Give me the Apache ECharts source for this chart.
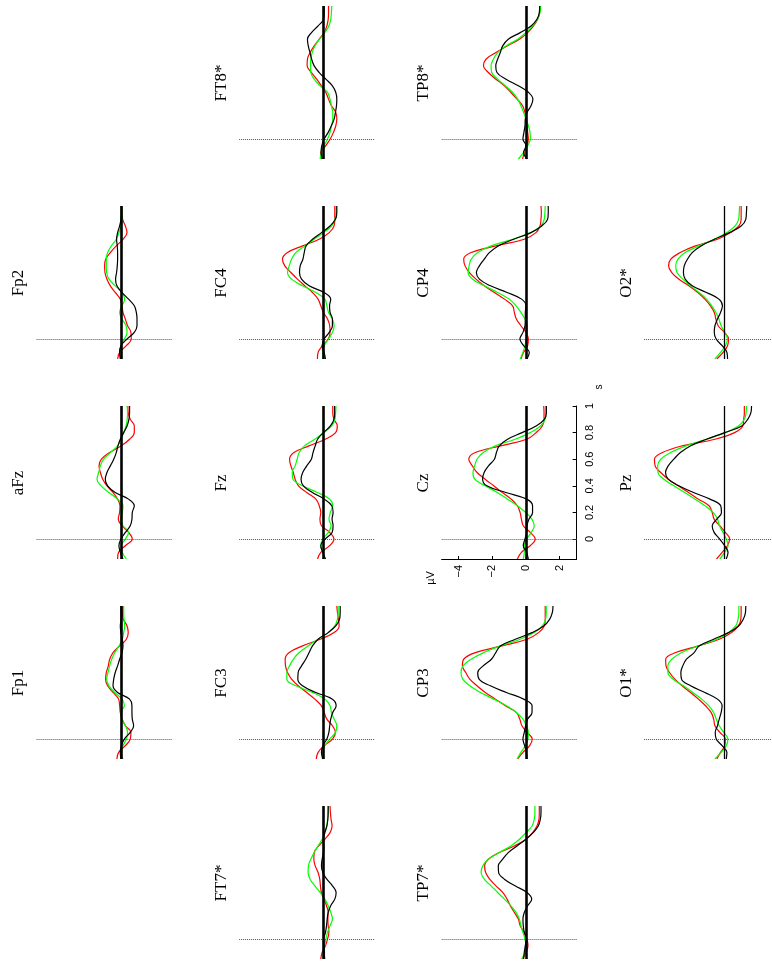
<!DOCTYPE html>
<html>
<head>
<meta charset="utf-8">
<script src="https://cdn.jsdelivr.net/npm/echarts@6/dist/echarts.min.js"></script>
<style>
html, body { margin: 0; padding: 0; background: #fff; }
#main { width: 772px; height: 962px; }
</style>
</head>
<body>
<div id="main"></div>
<script>
var times = [1.0, 0.95, 0.9, 0.85, 0.8, 0.75, 0.7, 0.65, 0.6, 0.55, 0.5, 0.45, 0.4, 0.35, 0.3, 0.25, 0.2, 0.15, 0.1, 0.05, 0, -0.05, -0.1, -0.15];

// amplitudes (µV) per channel and condition
var FT8_red   = [0.3,0.3,0.28,0.2,0.04,-0.26,-0.55,-0.79,-0.95,-0.97,-0.71,-0.4,-0.12,0.14,0.3,0.47,0.73,0.79,0.73,0.59,0.4,0.14,-0.16,-0.12];
var FT8_green = [0.49,0.47,0.43,0.32,0.08,-0.24,-0.51,-0.67,-0.75,-0.77,-0.75,-0.55,-0.2,0.24,0.39,0.47,0.55,0.55,0.47,0.39,0.24,0.04,-0.12,-0.2];
var FT8_black = [0.04,0.04,0,-0.32,-0.71,-0.95,-0.9,-0.8,-0.7,-0.55,-0.25,0.14,0.53,0.73,0.79,0.77,0.71,0.63,0.47,0.28,0.04,-0.1,-0.14,-0.06];

var TP8_red   = [0.83,0.81,0.69,0.45,0.1,-0.39,-1.12,-1.78,-2.37,-2.52,-2.23,-1.78,-1.28,-0.89,-0.53,-0.2,-0.06,0.02,0.06,0.1,0.14,0.06,-0.1,-0.2];
var TP8_green = [0.87,0.83,0.69,0.39,0,-0.49,-1.18,-1.68,-1.93,-2.07,-2.03,-1.68,-1.22,-0.79,-0.49,-0.3,-0.14,0,0.14,0.24,0.26,0.1,-0.14,-0.45];
var TP8_black = [0.81,0.79,0.65,0.3,-0.34,-1.05,-1.38,-1.52,-1.68,-1.79,-1.72,-1.18,-0.45,0.16,0.41,0.3,0.06,-0.04,-0.06,-0.12,-0.18,0,-0.14,0.06];

var Fp2_red   = [0.04,0.06,0.1,0.26,0.36,0.12,-0.28,-0.63,-0.91,-0.97,-0.95,-0.83,-0.63,-0.34,-0.04,0.06,0.12,0.26,0.39,0.59,0.61,0.32,-0.08,-0.2];
var Fp2_green = [0.06,0.06,0.06,0,-0.12,-0.28,-0.57,-0.79,-0.87,-0.87,-0.85,-0.71,-0.34,0.06,0.22,0.06,-0.08,0.06,0.3,0.36,0.2,0,-0.08,0];
var Fp2_black = [0.02,0.02,0,-0.08,-0.2,-0.26,-0.22,-0.2,-0.2,-0.22,-0.26,-0.32,-0.24,0.06,0.45,0.79,0.91,0.95,0.95,0.79,0.36,0,-0.08,-0.04];

var FC4_red   = [0.67,0.67,0.67,0.63,0.34,-0.26,-1.24,-2.13,-2.43,-2.29,-1.93,-1.54,-1.1,-0.65,-0.32,-0.16,0,0.24,0.37,0.39,0.28,-0.06,-0.32,-0.36];
var FC4_green = [0.75,0.75,0.67,0.49,0,-0.55,-1.1,-1.64,-1.89,-2.03,-2.13,-1.89,-1.24,-0.45,0.08,0.2,0.3,0.53,0.63,0.53,0.3,0.04,-0.04,-0.04];
var FC4_black = [0.79,0.79,0.71,0.39,-0.12,-0.65,-1.03,-1.14,-1.22,-1.38,-1.42,-1.3,-0.85,0.04,0.43,0.36,0.39,0.53,0.53,0.34,0.04,-0.08,0.04,0.12];

var CP4_red   = [0.89,0.91,0.89,0.83,0.59,-0.1,-1.78,-3.25,-3.69,-3.61,-3.35,-2.96,-2.47,-1.87,-1.28,-0.79,-0.69,-0.57,-0.3,0,0.14,0.1,-0.14,-0.3];
var CP4_green = [1.14,1.12,1.08,0.89,0.26,-0.79,-2.07,-2.86,-3.25,-3.37,-3.43,-3.16,-2.47,-1.68,-0.99,-0.59,-0.3,-0.06,0.08,0.08,0.02,-0.06,-0.18,-0.34];
var CP4_black = [1.32,1.32,1.28,0.93,0.3,-0.73,-1.64,-2.17,-2.47,-2.76,-2.94,-2.76,-2.11,-1.12,-0.26,0,-0.04,-0.04,-0.06,-0.18,-0.36,-0.14,0.2,0.06];

var O2_red   = [1.07,1.07,1.07,0.93,0.41,-0.41,-1.79,-2.74,-3.33,-3.47,-3.27,-2.82,-2.19,-1.64,-1.2,-0.85,-0.61,-0.51,-0.37,0.02,0.28,0.22,-0.06,-0.45];
var O2_green = [0.97,0.95,0.91,0.69,0.18,-0.61,-1.56,-2.43,-2.88,-3.02,-2.94,-2.58,-2.09,-1.56,-1.1,-0.77,-0.51,-0.32,-0.18,0.04,0.22,0.08,-0.22,-0.57];
var O2_black = [1.42,1.4,1.36,1.07,0.34,-0.61,-1.44,-1.99,-2.29,-2.49,-2.54,-2.43,-1.99,-1.1,-0.32,-0.1,-0.22,-0.41,-0.57,-0.61,-0.49,-0.12,0.18,0.22];

var aFz_red   = [0.41,0.43,0.55,0.79,0.79,0.51,0,-0.67,-1.16,-1.3,-1.22,-1.08,-0.83,-0.47,-0.2,-0.06,-0.08,-0.16,0.06,0.45,0.67,0.26,-0.14,-0.2];
var aFz_green = [0.36,0.39,0.37,0.3,0.16,0,-0.2,-0.63,-1.03,-1.22,-1.32,-1.42,-1.18,-0.71,-0.2,0.12,0.08,-0.04,0.12,0.45,0.26,0.02,0.08,0.32];
var aFz_black = [0.51,0.51,0.47,0.36,0.16,-0.04,-0.18,-0.28,-0.43,-0.63,-0.83,-0.93,-0.79,-0.34,0.45,0.79,0.67,0.65,0.55,0.26,0,-0.12,-0.04,0.12];

var Fz_red   = [0.55,0.55,0.62,0.82,0.72,0.1,-0.86,-1.75,-2.01,-1.93,-1.79,-1.68,-1.48,-0.99,-0.45,-0.25,-0.16,-0.21,-0.12,0.37,0.62,0.37,-0.16,-0.35];
var Fz_green = [0.74,0.72,0.68,0.49,0,-0.51,-1.13,-1.44,-1.56,-1.68,-1.85,-1.81,-1.23,-0.37,0.37,0.55,0.41,0.33,0.45,0.29,-0.04,-0.16,-0.04,0.1];
var Fz_black = [0.66,0.66,0.62,0.41,0,-0.35,-0.49,-0.62,-0.72,-0.99,-1.23,-1.33,-1.19,-0.66,0.04,0.49,0.57,0.51,0.57,0.51,0.1,-0.16,-0.04,0.12];

var Cz_red   = [1.05,1.07,1.07,0.97,0.6,0.04,-1.5,-3.0,-3.39,-3.18,-2.9,-2.42,-1.91,-1.4,-0.88,-0.51,-0.35,-0.27,-0.16,0.25,0.55,0.25,-0.27,-0.51];
var Cz_green = [1.17,1.17,1.13,0.86,0.25,-0.64,-1.81,-2.53,-2.9,-3.04,-3.14,-3.04,-2.42,-1.7,-1.09,-0.51,-0.02,0.35,0.49,0.31,0.04,-0.1,-0.1,-0.16];
var Cz_black = [1.21,1.21,1.09,0.6,-0.23,-1.09,-1.58,-1.75,-1.87,-2.22,-2.48,-2.57,-2.32,-1.19,0.04,0.39,0.39,0.18,0.06,0.04,-0.06,-0.16,0.04,0.14];

var Pz_red   = [1.27,1.27,1.23,1.17,0.66,-0.57,-2.63,-3.86,-4.35,-4.31,-3.96,-3.49,-2.87,-2.22,-1.6,-0.94,-0.74,-0.62,-0.27,0.08,0.35,0.21,-0.12,-0.47];
var Pz_green = [1.4,1.38,1.27,0.9,0.08,-1.13,-2.38,-3.35,-3.96,-4.15,-4.13,-3.76,-3.14,-2.46,-1.81,-1.19,-0.68,-0.41,-0.29,-0.06,0.14,0.25,0.04,-0.27];
var Pz_black = [1.72,1.68,1.48,1.11,0.04,-1.09,-2.11,-2.73,-3.14,-3.49,-3.66,-3.49,-2.83,-1.91,-0.88,-0.21,-0.16,-0.45,-0.74,-0.62,-0.27,0.04,0.25,0.14];

var Fp1_red   = [0.06,0.08,0.14,0.36,0.43,0.32,-0.08,-0.47,-0.67,-0.75,-0.87,-0.91,-0.79,-0.47,-0.14,-0.08,-0.04,0.06,0.26,0.59,0.55,0.26,-0.14,-0.24];
var Fp1_green = [0.16,0.16,0.18,0.22,0.16,0.08,-0.12,-0.36,-0.55,-0.67,-0.77,-0.85,-0.71,-0.36,0.06,0.2,0,0.06,0.26,0.39,0.32,0.12,-0.04,0.12];
var Fp1_black = [0,0,0,-0.04,0,0.08,0.12,0.06,-0.08,-0.2,-0.34,-0.43,-0.47,-0.2,0.51,0.65,0.65,0.67,0.75,0.55,0.2,0.02,-0.04,0];

var FC3_red   = [0.79,0.83,0.89,0.93,0.63,-0.2,-1.24,-2.03,-2.27,-2.25,-2.13,-1.89,-1.5,-0.99,-0.51,-0.12,0.04,0.2,0.53,0.71,0.53,0.04,-0.32,-0.43];
var FC3_green = [0.87,0.87,0.83,0.67,0.28,-0.32,-0.91,-1.44,-1.78,-2.01,-2.17,-2.17,-1.64,-0.65,0.08,0.39,0.47,0.63,0.79,0.71,0.37,0.08,-0.04,-0.06];
var FC3_black = [0.99,0.99,0.95,0.73,0.28,-0.32,-0.65,-0.85,-1.05,-1.3,-1.5,-1.52,-1.24,-0.45,0.53,0.75,0.55,0.43,0.37,0.32,0.2,-0.04,-0.12,-0.04];

var CP3_red   = [1.14,1.14,1.14,1.08,0.75,0.06,-1.42,-3.0,-3.69,-3.77,-3.57,-3.33,-2.9,-2.41,-1.81,-1.22,-0.57,-0.37,-0.24,0.06,0.37,0.22,-0.18,-0.49];
var CP3_green = [1.2,1.2,1.16,0.97,0.49,-0.34,-1.52,-2.5,-3.25,-3.73,-3.85,-3.75,-3.33,-2.7,-1.91,-1.16,-0.57,-0.18,0.02,0.14,0.12,-0.04,-0.3,-0.53];
var CP3_black = [1.6,1.56,1.4,1.05,0.36,-0.63,-1.52,-1.79,-2.05,-2.54,-2.86,-2.78,-2.11,-1.16,-0.14,0.36,0.36,0.1,-0.02,-0.1,-0.18,-0.08,0.02,0.06];

var O1_red   = [1.07,1.07,1.05,0.89,0.47,-0.3,-1.6,-3.02,-3.65,-3.63,-3.41,-3.08,-2.62,-2.09,-1.6,-1.16,-0.81,-0.65,-0.57,-0.26,0.08,0.04,-0.22,-0.45];
var O1_green = [0.93,0.93,0.87,0.73,0.28,-0.45,-1.6,-2.64,-3.27,-3.51,-3.51,-3.18,-2.54,-1.95,-1.4,-0.95,-0.65,-0.49,-0.3,-0.02,0.24,0.14,-0.18,-0.57];
var O1_black = [1.36,1.34,1.2,0.91,0.28,-0.65,-1.56,-1.87,-2.35,-2.58,-2.7,-2.66,-2.09,-1.2,-0.41,-0.12,-0.18,-0.3,-0.41,-0.55,-0.49,-0.12,0.18,0.14];

var FT7_red   = [0.39,0.41,0.45,0.51,0.39,0.08,-0.28,-0.55,-0.57,-0.49,-0.32,-0.22,-0.18,-0.12,0.04,0.18,0.28,0.26,0.28,0.32,0.24,0.12,-0.08,-0.16];
var FT7_green = [0.28,0.26,0.24,0.2,0.08,-0.08,-0.32,-0.55,-0.75,-0.89,-0.91,-0.79,-0.51,-0.2,0.08,0.28,0.43,0.53,0.39,0.24,0.14,0.08,0.04,0.1];
var FT7_black = [0.28,0.28,0.26,0.2,0.08,0,0.02,0,-0.08,-0.12,-0.04,0.2,0.53,0.75,0.67,0.43,0.28,0.22,0.18,0.12,0.02,0.04,0.06,0.04];

var TP7_red   = [0.79,0.79,0.77,0.65,0.39,0,-0.69,-1.58,-2.23,-2.45,-2.39,-2.15,-1.78,-1.38,-1.12,-0.93,-0.69,-0.45,-0.34,-0.1,0.06,0.12,0,-0.2];
var TP7_green = [0.53,0.53,0.49,0.36,0,-0.39,-0.89,-1.58,-2.23,-2.56,-2.66,-2.47,-2.07,-1.68,-1.28,-0.89,-0.59,-0.39,-0.3,-0.18,-0.06,0,-0.06,-0.26];
var TP7_black = [0.89,0.89,0.85,0.73,0.43,0,-0.53,-1.05,-1.38,-1.64,-1.62,-1.28,-0.65,0.06,0.34,0.1,-0.1,-0.18,-0.16,-0.1,0.02,-0.04,-0.1,-0.14];

var channels = ['FT8*', 'TP8*', 'Fp2', 'FC4', 'CP4', 'O2*', 'aFz', 'Fz', 'Cz', 'Pz', 'Fp1', 'FC3', 'CP3', 'O1*', 'FT7*', 'TP7*'];
var traces = {
	'FT8*': [FT8_red, FT8_green, FT8_black],
	'TP8*': [TP8_red, TP8_green, TP8_black],
	'Fp2':  [Fp2_red, Fp2_green, Fp2_black],
	'FC4':  [FC4_red, FC4_green, FC4_black],
	'CP4':  [CP4_red, CP4_green, CP4_black],
	'O2*':  [O2_red, O2_green, O2_black],
	'aFz':  [aFz_red, aFz_green, aFz_black],
	'Fz':   [Fz_red, Fz_green, Fz_black],
	'Cz':   [Cz_red, Cz_green, Cz_black],
	'Pz':   [Pz_red, Pz_green, Pz_black],
	'Fp1':  [Fp1_red, Fp1_green, Fp1_black],
	'FC3':  [FC3_red, FC3_green, FC3_black],
	'CP3':  [CP3_red, CP3_green, CP3_black],
	'O1*':  [O1_red, O1_green, O1_black],
	'FT7*': [FT7_red, FT7_green, FT7_black],
	'TP7*': [TP7_red, TP7_green, TP7_black]
};
var ampTicks = [-4, -2, 0, 2];
var timeTicks = [0, 0.2, 0.4, 0.6, 0.8, 1];

// where each channel sits on the page: [row, col]
var slot = {
	'FT8*': [0, 1], 'TP8*': [0, 2],
	'Fp2': [1, 0], 'FC4': [1, 1], 'CP4': [1, 2], 'O2*': [1, 3],
	'aFz': [2, 0], 'Fz': [2, 1], 'Cz': [2, 2], 'Pz': [2, 3],
	'Fp1': [3, 0], 'FC3': [3, 1], 'CP3': [3, 2], 'O1*': [3, 3],
	'FT7*': [4, 1], 'TP7*': [4, 2]
};
var colLeft = [36.6, 239.1, 441.6, 644.1];
var rowTop = [6, 206, 406, 606, 806];
var panelW = 135, panelH = 153;
var colors = ['#ff0000', '#00ff00', '#000000'];
var axisPanel = 'Cz';

var myChart = echarts.init(document.getElementById('main'));

var grids = [], xAxes = [], yAxes = [], series = [], graphics = [];

function minus(v) {
	return v < 0 ? '\u2212' + Math.abs(v) : String(v);
}

channels.forEach(function (ch, i) {
	var r = slot[ch][0], c = slot[ch][1];
	var left = colLeft[c], top = rowTop[r];
	var withAxes = ch === axisPanel;
	grids.push({ left: left, top: top, width: panelW, height: panelH, containLabel: false });
	xAxes.push({
		gridIndex: i, type: 'value', min: -5, max: 3, show: withAxes, position: 'bottom',
		axisLine: { show: true, onZero: false, lineStyle: { color: '#000', width: 1 } },
		axisTick: { show: true, inside: true, length: 3, customValues: ampTicks, lineStyle: { color: '#000' } },
		axisLabel: { show: true, rotate: 90, margin: 6, customValues: ampTicks, color: '#000',
			fontFamily: 'Liberation Sans', fontSize: 11, formatter: minus },
		splitLine: { show: false }
	});
	yAxes.push({
		gridIndex: i, type: 'value', min: -0.15, max: 1, show: withAxes, position: 'right',
		axisLine: { show: true, onZero: false, lineStyle: { color: '#000', width: 1 } },
		axisTick: { show: true, inside: true, length: 4, customValues: timeTicks, lineStyle: { color: '#000' } },
		axisLabel: { show: true, rotate: 90, margin: 8, customValues: timeTicks, color: '#000',
			fontFamily: 'Liberation Sans', fontSize: 11 },
		splitLine: { show: false }
	});
	traces[ch].forEach(function (vals, k) {
		var s = {
			type: 'line', xAxisIndex: i, yAxisIndex: i, smooth: 0.4, symbol: 'none',
			silent: true, animation: false, z: 3 + k,
			lineStyle: { color: colors[k], width: 1.2 },
			data: vals.map(function (v, j) { return [v, times[j]]; })
		};
		if (k === 0) {
			s.markLine = {
				silent: true, animation: false, symbol: ['none', 'none'], label: { show: false },
				data: [
					{ yAxis: 0, lineStyle: { color: '#555', type: [1, 1], width: 1 } },
					{ xAxis: 0, lineStyle: { color: '#000', type: 'solid', width: c === 3 ? 1.3 : 2.6 } }
				]
			};
		}
		series.push(s);
	});
	graphics.push({
		type: 'text', x: left - 18, y: top + 77, rotation: Math.PI / 2,
		style: { text: ch, fill: '#000', font: '17px "Liberation Serif"', align: 'center', verticalAlign: 'middle' }
	});
	if (withAxes) {
		graphics.push({
			type: 'text', x: left - 11, y: top + 172, rotation: Math.PI / 2,
			style: { text: '\u00b5V', fill: '#000', font: '11px "Liberation Sans"', align: 'center', verticalAlign: 'middle' }
		});
		graphics.push({
			type: 'text', x: left + panelW + 23, y: top - 19, rotation: Math.PI / 2,
			style: { text: 's', fill: '#000', font: '10px "Liberation Sans"', align: 'center', verticalAlign: 'middle' }
		});
	}
});

var option = {
	backgroundColor: '#fff',
	animation: false,
	grid: grids,
	xAxis: xAxes,
	yAxis: yAxes,
	series: series,
	graphic: graphics
};
myChart.setOption(option);
</script>
</body>
</html>
